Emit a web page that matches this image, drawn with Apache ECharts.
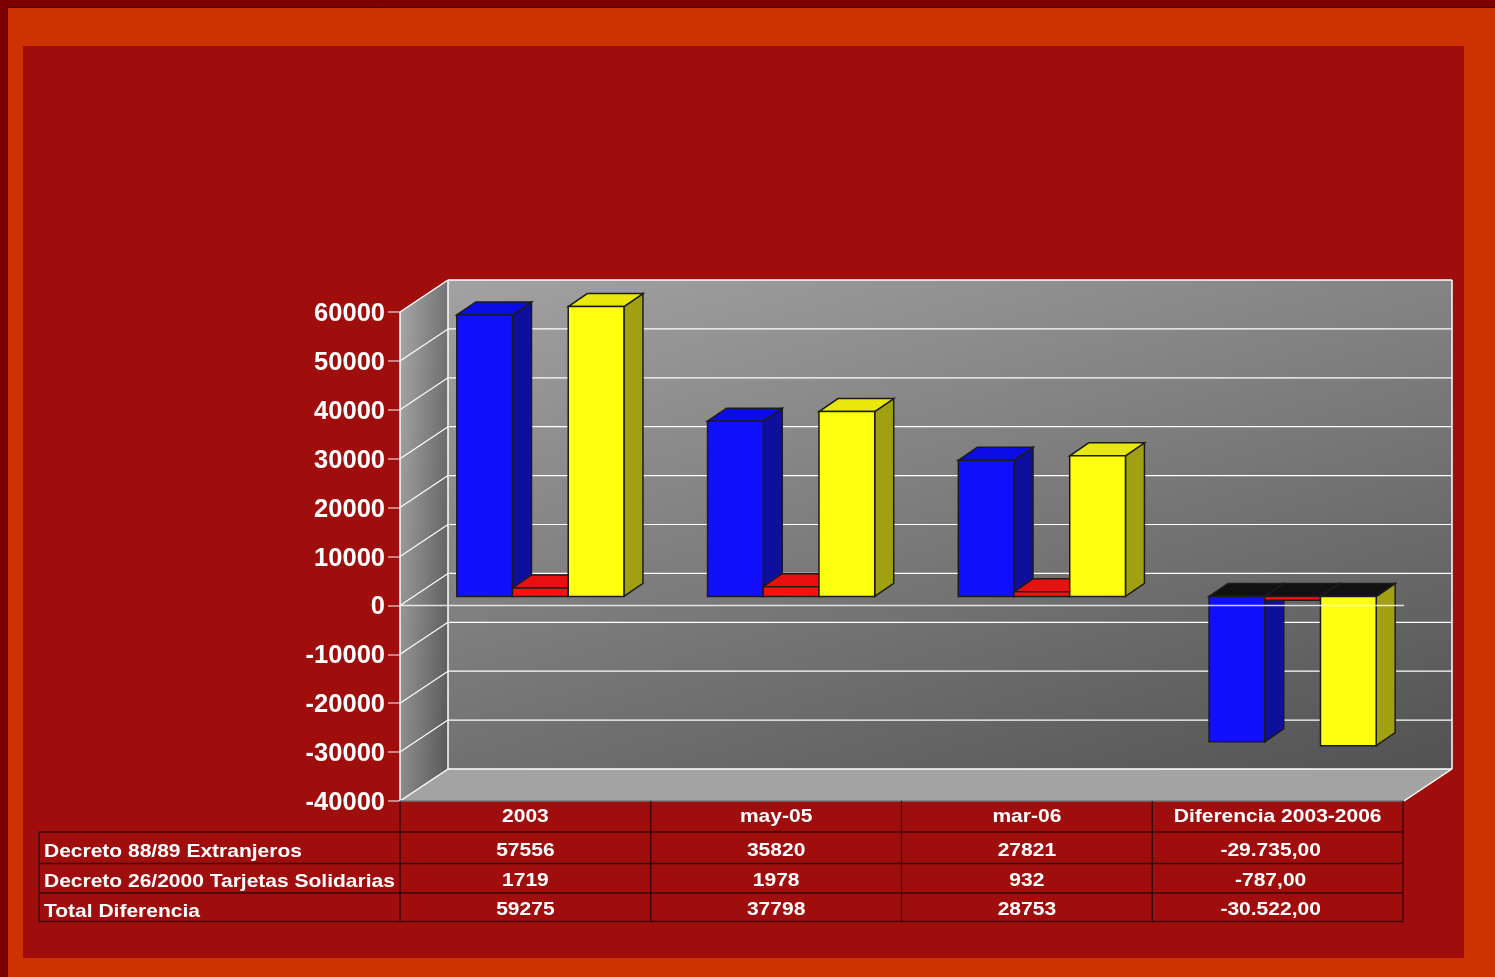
<!DOCTYPE html>
<html>
<head>
<meta charset="utf-8">
<title>Decretos</title>
<script src="https://cdn.jsdelivr.net/npm/echarts@6/dist/echarts.min.js"></script>
<style>
html, body { margin: 0; padding: 0; background: #cc3300; }
#main { width: 1495px; height: 977px; }
</style>
</head>
<body>
<div id="main"></div>
<script>
// datos de la tabla
const categories = ['2003', 'may-05', 'mar-06', 'Diferencia 2003-2006'];
const extranjeros = [57556, 35820, 27821, -29735];
const tarjetas = [1719, 1978, 932, -787];
const totalDif = [59275, 37798, 28753, -30522];
const rowLabels = ['Decreto 88/89 Extranjeros', 'Decreto 26/2000 Tarjetas Solidarias', 'Total Diferencia'];
const rowTexts = [
  ['57556', '35820', '27821', '-29.735,00'],
  ['1719', '1978', '932', '-787,00'],
  ['59275', '37798', '28753', '-30.522,00']
];

const DEPTH_X = 48, DEPTH_Y = -32;   // fondo del grafico 3D
const BAR_DX = 19, BAR_DY = -13;     // profundidad de las barras
const BAR_SHIFT = 15, BAR_BASE = -9;
const FONT = '"Liberation Sans", Arial, sans-serif';
const LINE = '#1c1c1c';
const TEXT_STRETCH = 1.105;          // el texto original sale mas ancho

function poly(points, fill, stroke, lineWidth) {
  return {
    type: 'polygon',
    shape: { points: points },
    style: { fill: fill, stroke: stroke || null, lineWidth: lineWidth || 0 }
  };
}
function seg(x1, y1, x2, y2, color, w, opacity) {
  return {
    type: 'line',
    shape: { x1: x1, y1: y1, x2: x2, y2: y2 },
    style: { stroke: color, lineWidth: w, opacity: opacity == null ? 1 : opacity }
  };
}

// paredes y suelo
function renderWalls(params, api) {
  const r = params.coordSys;
  const l = r.x, t = r.y, b = r.y + r.height, w = r.x + r.width;
  const bx = l + DEPTH_X, br = w + DEPTH_X + 1;
  const dy = DEPTH_Y;
  const kids = [
    poly([[bx, t + dy], [br, t + dy], [br, b + dy], [bx, b + dy]], {
      type: 'linear', x: 0, y: 0, x2: 0.215, y2: 1.48,
      colorStops: [{ offset: 0, color: '#a2a2a2' }, { offset: 1, color: '#525252' }]
    }),
    poly([[l, t], [bx, t + dy], [bx, b + dy], [l, b]], {
      type: 'linear', x: 0, y: 0, x2: 1.81, y2: 0.0083,
      colorStops: [{ offset: 0, color: '#a8a8a8' }, { offset: 1, color: '#484848' }]
    }),
    poly([[l, b], [bx, b + dy], [br, b + dy], [w + 1, b]], '#a3a3a3')
  ];
  for (let v = -30000; v <= 50000; v += 10000) {
    const y = api.coord([0, v])[1];
    kids.push(seg(l, y, bx, y + dy, '#fff', 1.2));
    kids.push(seg(bx, y + dy, br, y + dy, '#fff', 1.2));
  }
  kids.push(seg(l, t, bx, t + dy, '#fff', 1.5));
  kids.push(seg(bx, t + dy, br, t + dy, '#fff', 1.5));
  kids.push(seg(br, t + dy, br, b + dy, '#fff', 1.5));
  kids.push(seg(bx, b + dy, br, b + dy, '#fff', 1.5));
  kids.push(seg(bx, t + dy, bx, b + dy, '#fff', 1.5));
  kids.push(seg(l, t, l, b, '#fff', 1.5));
  kids.push(seg(l, b, bx, b + dy, '#fff', 1.5));
  kids.push(seg(w + 1, b, br, b + dy, '#fff', 1.5));
  kids.push(seg(l, b, w + 1, b, '#777', 1.5));
  return { type: 'group', children: kids };
}

function barRenderer(slot, front, side, top) {
  return function (params, api) {
    const cat = api.value(0);
    const val = api.value(1);
    const band = api.size([1, 0])[0];
    const c = api.coord([cat, 0]);
    const barW = band * 0.2222;
    const x0 = c[0] + BAR_SHIFT + (slot - 1.5) * barW;
    const x1 = x0 + barW;
    const y0 = c[1] + BAR_BASE;
    const y1 = api.coord([cat, val])[1] + BAR_BASE;
    const hi = Math.min(y0, y1), lo = Math.max(y0, y1);
    return {
      type: 'group',
      children: [
        poly([[x1, hi], [x1 + BAR_DX, hi + BAR_DY], [x1 + BAR_DX, lo + BAR_DY], [x1, lo]], side, LINE, 1.5),
        poly([[x0, hi], [x0 + BAR_DX, hi + BAR_DY], [x1 + BAR_DX, hi + BAR_DY], [x1, hi]], val < 0 ? '#111111' : top, LINE, 1.5),
        poly([[x0, hi], [x1, hi], [x1, lo], [x0, lo]], front, LINE, 1.5)
      ]
    };
  };
}

// linea del cero, por encima de las barras
function renderZero(params, api) {
  const r = params.coordSys;
  const y = api.coord([0, 0])[1];
  return seg(r.x, y, r.x + r.width + 1, y, '#fff', 1.5, 0.8);
}

function tableText(s, x, y, align) {
  return {
    type: 'text',
    x: x,
    y: y,
    scaleX: TEXT_STRETCH,
    style: { text: s, x: 0, y: 0, fill: '#fff', font: 'bold 19px ' + FONT, align: align, verticalAlign: 'middle' }
  };
}

// tabla inferior
const rowY = [832, 863.5, 893, 921.5];
const headY = 817;
const cellY = [851, 881, 910];
const labelY = [852, 882, 912];
const cellShift = [0, 0, 0, -7];
function renderTable(params, api) {
  const r = params.coordSys;
  const kids = [];
  const right = r.x + r.width;
  const tableLeft = 39;
  rowY.forEach(y => kids.push(seg(tableLeft, y, right, y, '#3d0a0a', 1.5)));
  kids.push(seg(tableLeft, rowY[0], tableLeft, rowY[3], '#3d0a0a', 1.5));
  categories.concat(['']).forEach((c, i) => {
    const x = r.x + r.width * i / categories.length;
    kids.push(seg(x, r.y + r.height, x, rowY[3], '#2a0505', 1.2));
  });
  categories.forEach((c, j) => {
    kids.push(tableText(c, api.coord([j, 0])[0], headY, 'center'));
  });
  rowLabels.forEach((s, i) => {
    kids.push(tableText(s, 44, labelY[i], 'left'));
    rowTexts[i].forEach((t, j) => {
      kids.push(tableText(t, api.coord([j, 0])[0] + cellShift[j], cellY[i], 'center'));
    });
  });
  return { type: 'group', children: kids };
}

function catData(values) {
  return values.map((v, i) => [i, v]);
}

const myChart = echarts.init(document.getElementById('main'));
myChart.setOption({
  animation: false,
  graphic: [
    { type: 'rect', z: -10, shape: { x: 0, y: 0, width: 1495, height: 977 }, style: { fill: '#cc3300' } },
    { type: 'polyline', z: -9, shape: { points: [[3.5, 977], [3.5, 3.5], [1495, 3.5]] }, style: { fill: null, stroke: '#7d0000', lineWidth: 8 } },
    { type: 'polyline', z: -9, shape: { points: [[7.5, 977], [7.5, 7.5], [1495, 7.5]] }, style: { fill: null, stroke: '#3c0000', lineWidth: 1 } },
    { type: 'rect', z: -8, shape: { x: 23, y: 46, width: 1441, height: 912 }, style: { fill: '#a00d0d' } }
  ],
  grid: { left: 400, top: 312, width: 1003, height: 489 },
  xAxis: {
    type: 'category',
    data: categories,
    axisLine: { show: false },
    axisTick: { show: false },
    axisLabel: { show: false }
  },
  yAxis: {
    type: 'value',
    min: -40000,
    max: 60000,
    interval: 10000,
    splitLine: { show: false },
    axisLine: { show: false },
    axisTick: { show: true, length: 12, lineStyle: { color: 'rgba(255,255,255,0.65)', width: 1.5 } },
    axisLabel: {
      margin: 15,
      formatter: function (v) { return '{n|' + v + '}'; },
      rich: {
        n: { color: '#fff', fontFamily: FONT, fontWeight: 'bold', fontSize: 25.5, padding: [4, 0, 0, 0] }
      }
    }
  },
  series: [
    { type: 'custom', name: 'fondo', z: 1, renderItem: renderWalls, data: [[0, 0]], silent: true },
    { type: 'custom', name: 'Decreto 88/89 Extranjeros', z: 2, renderItem: barRenderer(0, '#1010ff', '#0f0f9e', '#0c0ce6'), data: catData(extranjeros) },
    { type: 'custom', name: 'Decreto 26/2000 Tarjetas Solidarias', z: 3, renderItem: barRenderer(1, '#ff1010', '#9e0f0f', '#e81010'), data: catData(tarjetas) },
    { type: 'custom', name: 'Total Diferencia', z: 4, renderItem: barRenderer(2, '#ffff10', '#a0a010', '#e8e80c'), data: catData(totalDif) },
    { type: 'custom', name: 'cero', z: 5, renderItem: renderZero, data: [[0, 0]], silent: true },
    { type: 'custom', name: 'tabla', z: 5, renderItem: renderTable, data: [[0, 0]], silent: true }
  ]
});
window.addEventListener('resize', () => { myChart.resize(); });
</script>
</body>
</html>
